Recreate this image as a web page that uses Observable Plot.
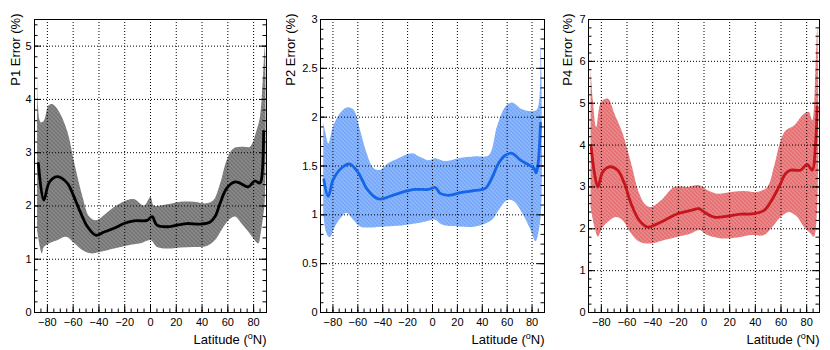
<!DOCTYPE html>
<html><head><meta charset="utf-8">
<script src="https://cdn.jsdelivr.net/npm/d3@7"></script>
<script src="https://cdn.jsdelivr.net/npm/@observablehq/plot@0.6"></script>
<style>
html,body{margin:0;padding:0;background:#fff;}
#wrap{position:relative;width:830px;height:350px;overflow:hidden;background:#fff;}
#wrap > svg{position:absolute;top:0;}
</style></head><body>
<svg width="0" height="0" style="position:absolute">
<defs>
<pattern id="patK" width="4" height="4" patternUnits="userSpaceOnUse">
<rect width="4" height="4" fill="#222"/>
<rect x="1" y="0" width="1" height="1" fill="#f2f2f2"/><rect x="3" y="0" width="1" height="1" fill="#b8b8b8"/>
<rect x="0" y="1" width="1" height="1" fill="#d0d0d0"/><rect x="2" y="1" width="1" height="1" fill="#f2f2f2"/>
<rect x="1" y="2" width="1" height="1" fill="#b8b8b8"/><rect x="3" y="2" width="1" height="1" fill="#f2f2f2"/>
<rect x="0" y="3" width="1" height="1" fill="#f2f2f2"/><rect x="2" y="3" width="1" height="1" fill="#d0d0d0"/>
</pattern>
<pattern id="patB" width="4" height="4" patternUnits="userSpaceOnUse">
<rect width="4" height="4" fill="#2a78f5"/>
<rect x="1" y="0" width="1" height="1" fill="#f0f5ff"/><rect x="3" y="0" width="1" height="1" fill="#b3cefb"/>
<rect x="0" y="1" width="1" height="1" fill="#d2e2fd"/><rect x="2" y="1" width="1" height="1" fill="#f0f5ff"/>
<rect x="1" y="2" width="1" height="1" fill="#b3cefb"/><rect x="3" y="2" width="1" height="1" fill="#f0f5ff"/>
<rect x="0" y="3" width="1" height="1" fill="#f0f5ff"/><rect x="2" y="3" width="1" height="1" fill="#d2e2fd"/>
</pattern>
<pattern id="patR" width="4" height="4" patternUnits="userSpaceOnUse">
<rect width="4" height="4" fill="#d62226"/>
<rect x="1" y="0" width="1" height="1" fill="#fdf0f0"/><rect x="3" y="0" width="1" height="1" fill="#f0a8a8"/>
<rect x="0" y="1" width="1" height="1" fill="#f7cfcf"/><rect x="2" y="1" width="1" height="1" fill="#fdf0f0"/>
<rect x="1" y="2" width="1" height="1" fill="#f0a8a8"/><rect x="3" y="2" width="1" height="1" fill="#fdf0f0"/>
<rect x="0" y="3" width="1" height="1" fill="#fdf0f0"/><rect x="2" y="3" width="1" height="1" fill="#f7cfcf"/>
</pattern>
</defs></svg>
<div id="wrap"></div>
<script>
// ---- axis tick labels / values ----
const xMajor = [-80, -60, -40, -20, 0, 20, 40, 60, 80];
const yMajorP1 = [0, 1, 2, 3, 4, 5];
const yMajorP2 = [0, 0.5, 1, 1.5, 2, 2.5, 3];
const yMajorP4 = [0, 1, 2, 3, 4, 5, 6, 7];
const yTitles = ["P1 Error (%)", "P2 Error (%)", "P4 Error (%)"];
const xTitleParts = ["Latitude (", "o", "N)"];

// ---- P1 ----
const p1Lat  = [-87, -82.8, -78.4, -72, -64.3, -60.4, -54, -48.9, -42.4, -36, -28.3, -20.6, -12.9, -2.6, 1.3, 4.9, 12.9, 20.6, 28.3, 38.6, 46.3, 50.1, 54, 59.1, 65.6, 69.4, 75.8, 81, 84.3, 85.5, 87.8];
const p1Mean = [2.80, 2.11, 2.45, 2.55, 2.42, 2.23, 1.86, 1.61, 1.45, 1.51, 1.58, 1.67, 1.72, 1.73, 1.80, 1.64, 1.61, 1.64, 1.67, 1.66, 1.70, 1.80, 2.05, 2.33, 2.45, 2.43, 2.36, 2.47, 2.43, 2.45, 3.40];
const p1UpLat = [-88, -85.3, -82.8, -79, -75.9, -70.7, -64.3, -59.1, -52.7, -47.6, -42.4, -36, -28.3, -18, -12.9, -5.1, 0, 2.6, 12.9, 23.1, 33.4, 43.7, 48.9, 54, 59.1, 64.3, 72, 77.1, 82.3, 84.9, 87.4, 88.7];
const p1Up    = [4.55, 3.57, 3.60, 3.89, 3.91, 3.76, 3.38, 2.80, 2.17, 1.80, 1.73, 1.83, 1.98, 2.11, 2.13, 2.01, 2.17, 2.01, 2.03, 2.08, 2.08, 2.05, 2.11, 2.42, 2.86, 3.08, 3.11, 3.11, 3.42, 3.67, 4.49, 4.99];
const p1LoLat = [-88, -84.3, -82.8, -78.4, -72, -65.6, -59.1, -52.7, -46.3, -38.6, -28.3, -18, -7.7, 0, 5.1, 12.9, 23.1, 33.4, 43.7, 50.1, 56.6, 61.7, 65.6, 70.7, 77.1, 83.6, 85.4, 87.4, 88.7];
const p1Lo    = [1.55, 1.11, 1.23, 1.30, 1.36, 1.42, 1.30, 1.17, 1.11, 1.14, 1.20, 1.26, 1.30, 1.36, 1.23, 1.20, 1.22, 1.23, 1.25, 1.36, 1.61, 1.76, 1.80, 1.67, 1.48, 1.30, 1.48, 1.80, 2.11];

// ---- P2 ----
const p2Lat  = [-87.3, -83.8, -79.8, -73.1, -66.4, -59.6, -52.9, -46.2, -42.2, -34.1, -24.7, -14, -3.2, 2.2, 6.2, 12.9, 23.6, 34.4, 42.4, 47.8, 53.2, 58.6, 63.9, 70.7, 77.4, 81.4, 83.3, 84.9, 86.8];
const p2Mean = [1.36, 1.19, 1.36, 1.48, 1.52, 1.43, 1.27, 1.18, 1.16, 1.19, 1.23, 1.26, 1.26, 1.28, 1.22, 1.20, 1.23, 1.25, 1.27, 1.38, 1.53, 1.61, 1.63, 1.56, 1.51, 1.48, 1.43, 1.53, 1.94];
const p2UpLat = [-87.8, -86, -83.8, -79.8, -74.4, -69, -63.7, -58.3, -52.9, -47.5, -42.2, -35.5, -27.4, -16.7, -11.3, -3.2, 2.2, 10.2, 21, 34.4, 45.1, 51.9, 58.6, 63.9, 72, 80.1, 84.1, 86.8];
const p2Up    = [1.94, 1.84, 1.73, 1.91, 2.04, 2.10, 2.08, 1.87, 1.63, 1.48, 1.46, 1.53, 1.58, 1.63, 1.60, 1.56, 1.58, 1.55, 1.58, 1.60, 1.61, 1.91, 2.11, 2.15, 2.08, 2.06, 2.08, 2.73];
const p2LoLat = [-87.8, -85.2, -82.5, -78.4, -73.1, -69, -63.7, -58.3, -51.6, -38.1, -24.7, -14, -3.2, 2.2, 7.5, 21, 34.4, 47.8, 53.2, 59.9, 65.3, 72, 78.7, 82.8, 85.5, 87.4];
const p2Lo    = [1.02, 0.81, 0.77, 0.88, 0.98, 1.02, 0.95, 0.88, 0.87, 0.88, 0.89, 0.91, 0.94, 0.95, 0.90, 0.88, 0.88, 0.95, 1.05, 1.15, 1.14, 1.02, 0.85, 0.73, 0.85, 1.08];

// ---- P4 ----
const p4Lat  = [-87.9, -85.3, -82.7, -78.9, -73.7, -67.2, -62, -56.8, -50.4, -43.9, -40, -30.9, -20.6, -10.2, -3.8, 0.1, 7.9, 18.3, 28.6, 39, 46.8, 51.9, 58.4, 63.6, 67.5, 75.2, 80.4, 84.3, 86.9, 88.2];
const p4Mean = [3.95, 3.32, 3.00, 3.36, 3.48, 3.40, 3.08, 2.60, 2.20, 2.04, 2.07, 2.20, 2.36, 2.44, 2.48, 2.40, 2.28, 2.30, 2.35, 2.36, 2.44, 2.64, 3.00, 3.32, 3.40, 3.40, 3.54, 3.40, 4.03, 4.91];
const p4UpLat = [-88.4, -86.6, -84, -80.2, -75, -69.8, -63.3, -56.8, -50.4, -45.2, -41.3, -33.5, -23.2, -12.8, -3.8, 2.7, 10.5, 20.9, 31.2, 41.6, 49.3, 54.5, 59.7, 63.6, 70.1, 77.9, 81.7, 84.3, 86.9, 88.2];
const p4Up    = [5.86, 5.07, 4.43, 5.03, 5.11, 4.75, 4.27, 3.56, 2.84, 2.56, 2.52, 2.68, 3.00, 3.00, 3.04, 2.92, 2.84, 2.88, 2.90, 2.88, 3.00, 3.48, 4.11, 4.35, 4.47, 4.75, 4.79, 4.59, 5.86, 6.82];
const p4LoLat = [-88.4, -85.3, -82.7, -78.9, -73.7, -68.5, -63.3, -56.8, -50.4, -41.3, -30.9, -20.6, -10.2, -3.8, 2.7, 13.1, 26, 36.4, 46.8, 53.2, 59.7, 66.2, 72.7, 77.9, 83, 85.6, 88.2];
const p4Lo    = [2.52, 2.04, 1.81, 2.04, 2.20, 2.28, 2.20, 1.89, 1.69, 1.65, 1.73, 1.81, 1.89, 1.97, 1.85, 1.77, 1.79, 1.85, 1.85, 2.04, 2.28, 2.40, 2.28, 2.04, 1.89, 1.81, 2.52];

const fmtX = d => d < 0 ? "\u2212" + (-d) : String(d);
const H = 350, mT = 19, mB = 38;

function panel(c) {
  const innerW = c.width - c.mL - c.mR;
  const innerH = H - mT - mB;
  const poly = c.upLat.map((x, i) => ({x, y: c.up[i]}))
    .concat(c.loLat.map((x, i) => ({x, y: c.lo[i]})).reverse());
  const line = c.lat.map((x, i) => ({x, y: c.mean[i]}));
  const yStep = c.yMajor[1] - c.yMajor[0];
  const yMinor = d3.range(0, c.yMax + 1e-9, yStep / 5).map(v => +v.toFixed(4));
  const xMinor = d3.range(-85, 90, 5);
  const majT = 7, minT = 3.5;
  const tk = {stroke: "#000", strokeWidth: 1};
  const svg = Plot.plot({
    width: c.width, height: H,
    marginLeft: c.mL, marginRight: c.mR, marginTop: mT, marginBottom: mB,
    x: {domain: [-90, 90]},
    y: {domain: [0, c.yMax]},
    style: {fontFamily: "'Liberation Sans', Arial, Helvetica, sans-serif", fontSize: "11px", color: "#000", background: "#fff", overflow: "visible"},
    marks: [
      Plot.line(poly, {x: "x", y: "y", fill: c.pattern, stroke: "none", curve: "catmull-rom", clip: true}),
      Plot.gridX({ticks: xMajor, stroke: "#000", strokeOpacity: 1, strokeDasharray: "1,2"}),
      Plot.gridY({ticks: c.yMajor.filter(v => v > 0 && v < c.yMax), stroke: "#000", strokeOpacity: 1, strokeDasharray: "1,2"}),
      Plot.line(line, {x: "x", y: "y", stroke: c.color, strokeWidth: 2.8, curve: "catmull-rom", clip: true}),
      // inward ticks, ROOT style
      Plot.tickY(yMinor, {y: d => d, insetRight: innerW - minT, ...tk}),
      Plot.tickY(c.yMajor, {y: d => d, insetRight: innerW - majT, ...tk}),
      Plot.tickY(yMinor, {y: d => d, insetLeft: innerW - minT, ...tk}),
      Plot.tickY(c.yMajor, {y: d => d, insetLeft: innerW - majT, ...tk}),
      Plot.tickX(xMinor, {x: d => d, insetTop: innerH - minT, ...tk}),
      Plot.tickX(xMajor, {x: d => d, insetTop: innerH - majT, ...tk}),
      Plot.frame({stroke: "#000", strokeWidth: 1}),
      Plot.axisX({ticks: xMajor, tickSize: 0, tickPadding: 6, tickFormat: fmtX, label: null}),
      Plot.axisY({ticks: c.yMajor, tickSize: 0, tickPadding: 3, tickFormat: d => String(d), label: null}),
      Plot.text([c.yTitle], {frameAnchor: "top-left", rotate: -90, textAnchor: "end", lineAnchor: "middle", dx: c.titleDx, dy: -6, fontSize: 13}),
      Plot.text([xTitleParts.join("")], {frameAnchor: "bottom-right", textAnchor: "end", lineAnchor: "middle", dy: 27, fontSize: 13})
    ]
  });
  svg.style.left = c.left + "px";
  // superscript "o" in the x-axis title
  const full = xTitleParts.join("");
  svg.querySelectorAll("text").forEach(t => {
    if (t.textContent === full) {
      t.textContent = "";
      const ns = "http://www.w3.org/2000/svg";
      const a = document.createElementNS(ns, "tspan"); a.textContent = xTitleParts[0];
      const b = document.createElementNS(ns, "tspan"); b.textContent = xTitleParts[1];
      b.setAttribute("dy", "-5"); b.setAttribute("font-size", "9");
      const e = document.createElementNS(ns, "tspan"); e.textContent = xTitleParts[2];
      e.setAttribute("dy", "5");
      t.append(a, b, e);
    }
  });
  document.getElementById("wrap").appendChild(svg);
}

panel({left: 0, width: 277, mL: 34, mR: 11, yMax: 5.5, yMajor: yMajorP1, yTitle: yTitles[0], titleDx: -19,
  lat: p1Lat, mean: p1Mean, upLat: p1UpLat, up: p1Up, loLat: p1LoLat, lo: p1Lo, color: "#000", pattern: "url(#patK)"});
panel({left: 277, width: 276, mL: 43, mR: 9, yMax: 3, yMajor: yMajorP2, yTitle: yTitles[1], titleDx: -30,
  lat: p2Lat, mean: p2Mean, upLat: p2UpLat, up: p2Up, loLat: p2LoLat, lo: p2Lo, color: "#1565e8", pattern: "url(#patB)"});
panel({left: 553, width: 277, mL: 35, mR: 11, yMax: 7, yMajor: yMajorP4, yTitle: yTitles[2], titleDx: -21,
  lat: p4Lat, mean: p4Mean, upLat: p4UpLat, up: p4Up, loLat: p4LoLat, lo: p4Lo, color: "#c4161c", pattern: "url(#patR)"});
</script>
</body></html>
